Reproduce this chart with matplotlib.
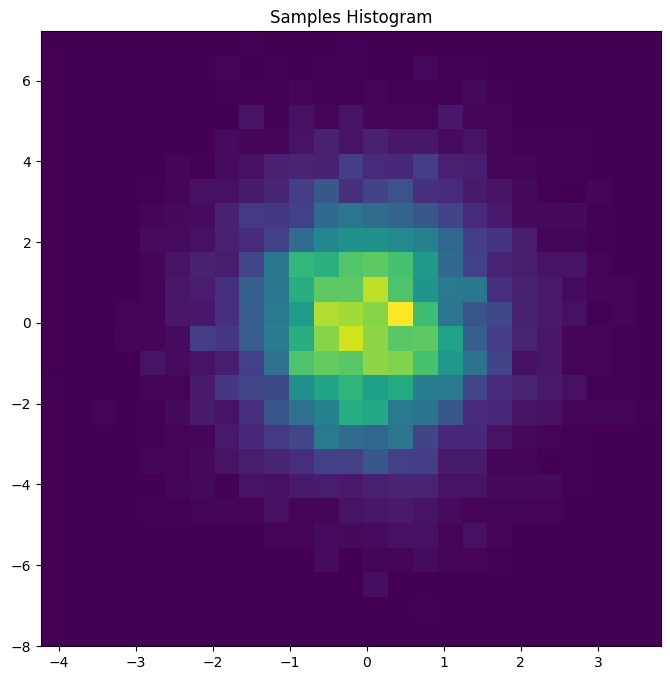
import numpy as np
import matplotlib
matplotlib.use('Agg')
import matplotlib.pyplot as plt

# bin heights, top row first (0-100, 100 = brightest bin)
row_00 = [0,0,0,0,0,0,0,0,0.5,0,0,0,0.5,0,0,0,0,0,0,0,0,0,0,0,0]
row_01 = [0,0,0,0,0,0,0,0.8,0.3,0.5,0,0.5,0.5,0.3,0.3,2,0.5,0.5,0,0,0,0,0,0,0]
row_02 = [0,0,0,0,0,0,0,0.5,0.5,0.5,1.5,0.5,0.5,1,0.5,0.5,0.5,2.5,0.5,0.3,0,0,0,0,0]
row_03 = [0,0,0,0,0,0,0,0,5,0.5,4,1.5,5,1.5,1,1,6,1,1,0.3,0.3,0.3,0,0,0]
row_04 = [0,0,0,0,0,0,0,3,1.5,1,5,9,5,9,6,6,3,5,1,0.5,0.5,0.5,0,0,0]
row_05 = [0,0,0,0,0,1.5,0.5,3,4,9,10,9,18,12,11,18,9,8,1.5,1.5,0.5,0.5,0.3,0,0]
row_06 = [0,0,0,0,0.5,1.5,4,4,7,10,18,27,14,20,25,14,12,7,5,2.5,0.5,0,1.5,0,0]
row_07 = [0,0,0,0,1.5,2.5,3,9,17,16,19,34,39,35,32,27,20,12,7,2.5,2.5,2.5,0.5,0,0]
row_08 = [0,0,0,0,3,3,4,9,12,19,35,46,51,51,47,43,33,18,15,8,1.5,1.5,0.5,0,0]
row_09 = [0,0,0,0,1.5,5,9,8,21,40,66,64,73,75,71,54,34,19,10,8,5,5,1,0,0]
row_10 = [0,0,0,0,1.5,6,8,14,30,39,63,75,75,90,72,52,41,40,13,9,7,3,1.5,1.5,0]
row_11 = [0,0.3,0,1,1.5,6,6,14,29,41,55,88,86,82,100,69,39,26,22,9,7,4,0.5,1.5,0]
row_12 = [0,0,0,1.5,1.5,3,18,16,29,42,63,82,93,83,74,75,58,30,18,10,6,1.5,1,0.5,0]
row_13 = [0,0,0,0,5,3,5,8,19,37,72,76,74,83,81,71,54,38,20,4,6,1.5,1.5,0.5,0]
row_14 = [0.5,0,0,0,1.5,1,7,16,21,22,50,59,65,57,61,42,41,21,12,10,7,4,0.5,0.5,0]
row_15 = [0,0,1,0,0.5,2.5,7,5,13,26,37,43,62,60,41,38,27,12,11,5,4,1.5,1.5,1.5,0.5]
row_16 = [0,0,0,0,0.5,1,1.5,7,11,17,21,41,35,33,39,20,11,11,5,2.5,1.5,0.5,0.3,0,0]
row_17 = [0,0,0,0,1.5,1,2.5,5,8,10,13,19,19,27,19,18,7,7,1.5,1.5,0,0.5,0.3,0,0]
row_18 = [0,0,0,0,0,1.5,2.5,0.5,5,4,7,8,7,9,10,10,5,5,2.5,2.5,2.5,0.5,0.3,0.3,0]
row_19 = [0,0,0,0,0.5,0.5,1.5,1.5,1,4,1.5,1.5,5,6,7,5,3,1,1.5,1.5,0.8,0.3,0.3,0,0]
row_20 = [0,0,0,0,0,0,0,0,0.3,0.8,0.8,3,2.5,3,4,4,1,4,1,0,0,0,0,0,0]
row_21 = [0,0,0,0,0,0,0,0,0,0,0,3,0.3,1.5,1,3,1.5,1,0.5,0,0,0,0,0,0]
row_22 = [0,0,0,0,0,0,0,0,0,0.3,0,0,0,3.5,0.3,0,0,0,0,0,0,0,0,0,0]
row_23 = [0,0,0,0,0,0,0,0,0,0,0,0.3,0.3,0,0,0.5,0,0,0,0,0,0,0,0,0]
row_24 = [0,0,0,0,0,0,0,0,0,0,0,0,0,0,0,0,0,0,0,0,0,0,0,0,0]

rows = [row_00, row_01, row_02, row_03, row_04, row_05, row_06, row_07, row_08,
        row_09, row_10, row_11, row_12, row_13, row_14, row_15, row_16, row_17,
        row_18, row_19, row_20, row_21, row_22, row_23, row_24]
hist = np.array(rows)

x_edges = np.linspace(-4.23, 3.82, 26)
y_edges = np.linspace(7.23, -8, 26)

fig = plt.figure(figsize=(6.7, 6.8), dpi=100)
ax = fig.add_axes([41 / 670, 34 / 680, 620 / 670, 615 / 680])
ax.pcolormesh(x_edges, y_edges, hist, cmap='viridis', vmin=0, vmax=100)
ax.set_title('Samples Histogram')
ax.set_xlim(-4.23, 3.82)
ax.set_ylim(-8, 7.23)
fig.savefig('out.png', dpi=100)
